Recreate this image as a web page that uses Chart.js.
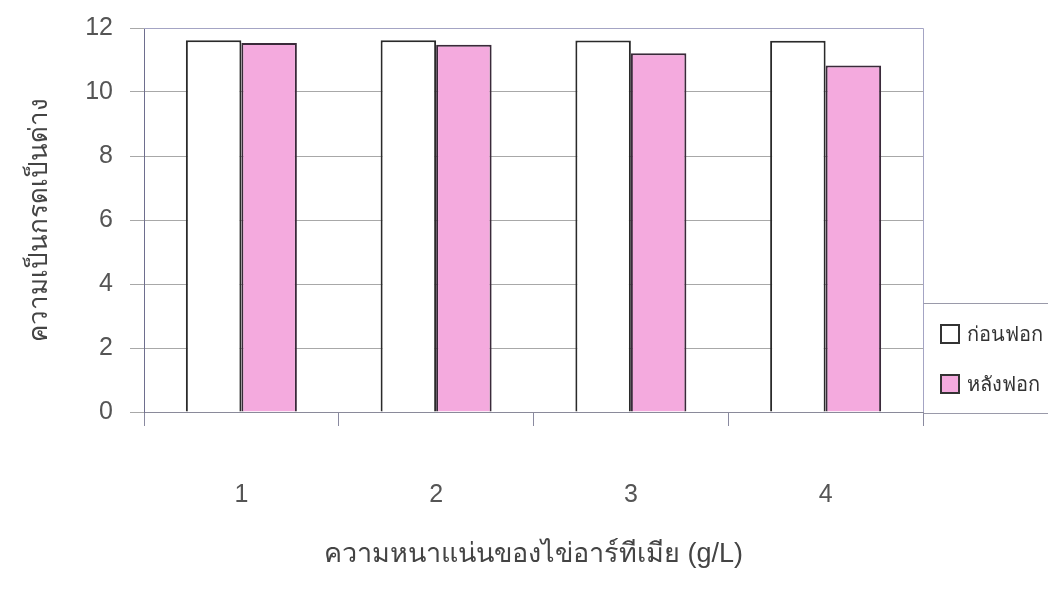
<!DOCTYPE html>
<html><head><meta charset="utf-8">
<script src="https://cdn.jsdelivr.net/npm/chart.js@4/dist/chart.umd.min.js"></script>
<style>html,body{margin:0;padding:0;background:#fff}#wrap{width:1048px;height:598px}</style>
</head><body><div id="wrap"><canvas id="c" width="1048" height="598"></canvas></div>
<script>
const categories = ['1', '2', '3', '4'];
const seriesNames = ['ก่อนฟอก', 'หลังฟอก'];
const beforeValues = [11.62, 11.62, 11.61, 11.60];
const afterValues = [11.53, 11.48, 11.21, 10.83];
const yTickValues = [0, 2, 4, 6, 8, 10, 12];
const xTitle = 'ความหนาแน่นของไข่อาร์ทีเมีย (g/L)';
const yTitle = 'ความเป็นกรดเป็นด่าง';

const FONT = "'Liberation Sans', 'DejaVu Sans', 'Noto Sans', sans-serif";

const frameAndLegend = {
  id: 'frameAndLegend',
  afterDatasetsDraw(chart) {
    const {ctx, chartArea: a, width} = chart;
    ctx.save();
    ctx.strokeStyle = '#a4a4c4';
    ctx.lineWidth = 1;
    ctx.beginPath();
    ctx.moveTo(a.left, a.top + 0.5); ctx.lineTo(a.right + 0.5, a.top + 0.5);
    ctx.lineTo(a.right + 0.5, a.bottom);
    ctx.stroke();
    // legend box
    ctx.strokeStyle = '#9a9aaa';
    ctx.beginPath();
    ctx.moveTo(a.right + 0.5, 303.5); ctx.lineTo(width, 303.5);
    ctx.moveTo(a.right + 0.5, a.bottom + 1.5); ctx.lineTo(width, a.bottom + 1.5);
    ctx.stroke();
    const ys = [334, 384];
    chart.data.datasets.forEach((ds, i) => {
      const y = ys[i];
      ctx.fillStyle = ds.backgroundColor;
      ctx.fillRect(941, y - 9, 18, 18);
      ctx.strokeStyle = '#333';
      ctx.lineWidth = 2;
      ctx.strokeRect(941, y - 9, 18, 18);
      ctx.fillStyle = '#333';
      ctx.font = "20px " + FONT;
      ctx.textBaseline = 'middle';
      ctx.textAlign = 'left';
      ctx.fillText(ds.label, 967, y + 1);
    });
    ctx.restore();
  }
};

new Chart(document.getElementById('c'), {
  type: 'bar',
  data: {
    labels: categories,
    datasets: [
      { label: seriesNames[0], data: beforeValues, backgroundColor: '#ffffff', borderColor: '#2a2a2a', borderWidth: 2 },
      { label: seriesNames[1], data: afterValues, backgroundColor: '#f4aade', borderColor: '#3a2a3a', borderWidth: 2 }
    ]
  },
  options: {
    responsive: false,
    animation: false,
    layout: { padding: { top: 28, right: 125, left: 0, bottom: 0 } },
    datasets: { bar: { categoryPercentage: 0.57, barPercentage: 1.0 } },
    plugins: { legend: { display: false }, tooltip: { enabled: false } },
    scales: {
      x: {
        afterFit(s) { s.height = 186; s.paddingLeft = 0; s.paddingRight = 0; },
        grid: { offset: true, drawOnChartArea: false, drawTicks: true, tickLength: 14, color: '#8a8aa0' },
        border: { display: true, color: '#8a8a9a' },
        ticks: { padding: 54, color: '#555', font: { family: FONT, size: 25 } },
        title: { display: true, text: xTitle, color: '#444', padding: { top: 0, bottom: 27 }, font: { family: FONT, size: 27 } }
      },
      y: {
        min: 0, max: 12,
        afterFit(s) { s.width = 144; s.paddingTop = 0; s.paddingBottom = 0; },
        afterBuildTicks(s) { s.ticks = yTickValues.map(v => ({ value: v })); },
        grid: { color: '#a8a8a8', tickLength: 14, drawTicks: true },
        border: { display: true, color: '#6e6e8e' },
        ticks: { padding: 17, color: '#555', font: { family: FONT, size: 25 } },
        title: { display: true, text: yTitle, color: '#444', padding: { top: 24, bottom: 0 }, font: { family: FONT, size: 26 } }
      }
    }
  },
  plugins: [frameAndLegend]
});
</script></body></html>
